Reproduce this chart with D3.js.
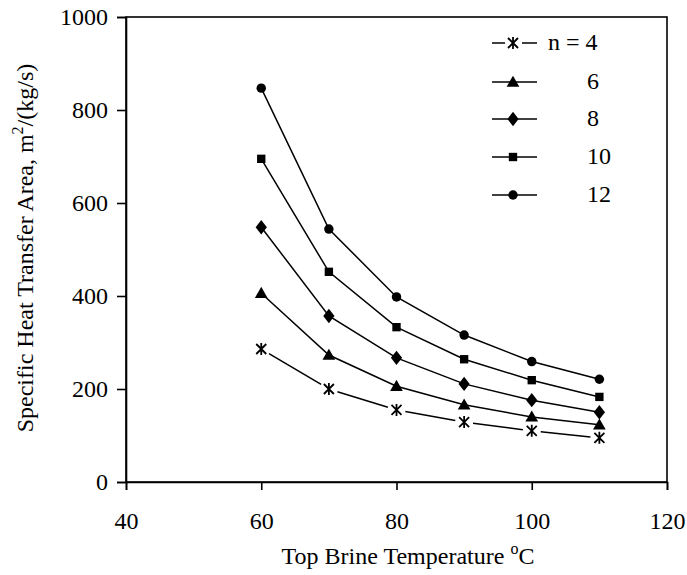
<!DOCTYPE html>
<html>
<head>
<meta charset="utf-8">
<script src="https://cdn.jsdelivr.net/npm/d3@7"></script>
<style>
  html, body { margin: 0; padding: 0; background: #fff; }
  svg { display: block; }
  svg text { font-family: "Liberation Serif", "DejaVu Serif", serif; fill: #000; }
</style>
</head>
<body>
<svg id="chart" width="687" height="575"></svg>
<script>
// Top brine temperature (°C)
const temperatures = [60, 70, 80, 90, 100, 110];

// Specific heat transfer area, m²/(kg/s), for each number of effects n
const seriesN = [4, 6, 8, 10, 12];
const area_n4  = [286, 200, 155, 129, 110, 95];
const area_n6  = [406, 273, 206, 166, 140, 123];
const area_n8  = [548, 357, 267, 211, 176, 150];
const area_n10 = [695, 452, 333, 264, 219, 183];
const area_n12 = [847, 544, 398, 316, 259, 221];

const legendLabels = ["n = 4", "6", "8", "10", "12"];
const markerTypes = ["asterisk", "triangle", "diamond", "square", "circle"];

const xTicks = [40, 60, 80, 100, 120];
const yTicks = [0, 200, 400, 600, 800, 1000];

const allSeries = [area_n4, area_n6, area_n8, area_n10, area_n12];

const FONT = "'Liberation Serif', 'DejaVu Serif', serif";

const svg = d3.select("#chart");
const margin = { left: 126, top: 17, right: 20, bottom: 93 };
const W = 687, H = 575;

const x = d3.scaleLinear().domain([40, 120]).range([margin.left, W - margin.right]);
const y = d3.scaleLinear().domain([0, 1000]).range([H - margin.bottom, margin.top]);

// frame
svg.append("rect")
  .attr("x", x(40)).attr("y", y(1000))
  .attr("width", x(120) - x(40)).attr("height", y(0) - y(1000))
  .attr("fill", "none").attr("stroke", "#000").attr("stroke-width", 1.6);

// axes
const xAxis = svg.append("g")
  .attr("transform", `translate(0,${y(0)})`)
  .call(d3.axisBottom(x).tickValues(xTicks).tickFormat(d3.format("d")).tickSize(8).tickPadding(22));
const yAxis = svg.append("g")
  .attr("transform", `translate(${x(40)},0)`)
  .call(d3.axisLeft(y).tickValues(yTicks).tickFormat(d3.format("d")).tickSize(9).tickPadding(9));

[xAxis, yAxis].forEach(g => {
  g.attr("font-family", FONT).attr("font-size", 24);
  g.select(".domain").attr("stroke", "#000").attr("stroke-width", 1.6);
  g.selectAll(".tick line").attr("stroke", "#000").attr("stroke-width", 1.6);
  g.selectAll(".tick text").attr("fill", "#000");
});

// axis titles
const xTitle = svg.append("text")
  .attr("x", 408)
  .attr("y", 564)
  .attr("text-anchor", "middle")
  .attr("font-family", FONT)
  .attr("font-size", 24);
xTitle.append("tspan").text("Top Brine Temperature ");
xTitle.append("tspan").attr("dy", -10).attr("font-size", 16).text("o");
xTitle.append("tspan").attr("dy", 10).text("C");

const yTitle = svg.append("text")
  .attr("transform", `translate(33,248) rotate(-90)`)
  .attr("text-anchor", "middle")
  .attr("font-family", FONT)
  .attr("font-size", 24);
yTitle.append("tspan").text("Specific Heat Transfer Area, m");
yTitle.append("tspan").attr("dy", -10).attr("font-size", 16).text("2");
yTitle.append("tspan").attr("dy", 10).text("/(kg/s)");

// marker drawing
function drawMarker(g, type, cx, cy) {
  if (type === "asterisk") {
    const s = 5;
    g.append("path")
      .attr("d", `M${cx - s},${cy - s}L${cx + s},${cy + s}M${cx + s},${cy - s}L${cx - s},${cy + s}M${cx},${cy - s - 1}L${cx},${cy + s + 1}`)
      .attr("stroke", "#000").attr("stroke-width", 1.8).attr("fill", "none");
  } else {
    const sym = {
      triangle: d3.symbolTriangle,
      diamond: d3.symbolDiamond,
      square: d3.symbolSquare,
      circle: d3.symbolCircle
    }[type];
    const size = { triangle: 70, diamond: 60, square: 70, circle: 70 }[type];
    const path = d3.symbol().type(sym).size(size)();
    let tr = `translate(${cx},${cy + (type === "triangle" ? 1 : 0)})`;
    if (type === "diamond") tr += " scale(1.35,1)";
    g.append("path")
      .attr("d", path)
      .attr("transform", tr)
      .attr("fill", "#000");
  }
}

const line = d3.line().x((d, i) => x(temperatures[i])).y(d => y(d));

allSeries.forEach((vals, si) => {
  const g = svg.append("g");
  const type = markerTypes[si];
  if (type === "asterisk") {
    // segments stop short of each star marker
    for (let i = 0; i < vals.length - 1; i++) {
      const x1 = x(temperatures[i]), y1 = y(vals[i]);
      const x2 = x(temperatures[i + 1]), y2 = y(vals[i + 1]);
      const len = Math.hypot(x2 - x1, y2 - y1);
      const gap = 9;
      const ux = (x2 - x1) / len, uy = (y2 - y1) / len;
      g.append("line")
        .attr("x1", x1 + ux * gap).attr("y1", y1 + uy * gap)
        .attr("x2", x2 - ux * gap).attr("y2", y2 - uy * gap)
        .attr("stroke", "#000").attr("stroke-width", 1.5);
    }
  } else {
    g.append("path").datum(vals)
      .attr("d", line)
      .attr("fill", "none").attr("stroke", "#000").attr("stroke-width", 1.5);
  }
  vals.forEach((v, i) => drawMarker(g, type, x(temperatures[i]), y(v)));
});

// legend
const legend = svg.append("g");
const legendRows = [43, 82, 119, 157, 195];
seriesN.forEach((n, i) => {
  const ly = legendRows[i];
  const type = markerTypes[i];
  if (type === "asterisk") {
    legend.append("line").attr("x1", 492).attr("x2", 505).attr("y1", ly).attr("y2", ly)
      .attr("stroke", "#000").attr("stroke-width", 1.5);
    legend.append("line").attr("x1", 522).attr("x2", 537).attr("y1", ly).attr("y2", ly)
      .attr("stroke", "#000").attr("stroke-width", 1.5);
  } else {
    legend.append("line").attr("x1", 492).attr("x2", 537).attr("y1", ly).attr("y2", ly)
      .attr("stroke", "#000").attr("stroke-width", 1.5);
  }
  drawMarker(legend, type, 513, ly);
  legend.append("text")
    .attr("x", i === 0 ? 548 : 587)
    .attr("y", ly + 7)
    .attr("font-family", FONT)
    .attr("font-size", 24)
    .text(legendLabels[i]);
});
</script>
</body>
</html>
